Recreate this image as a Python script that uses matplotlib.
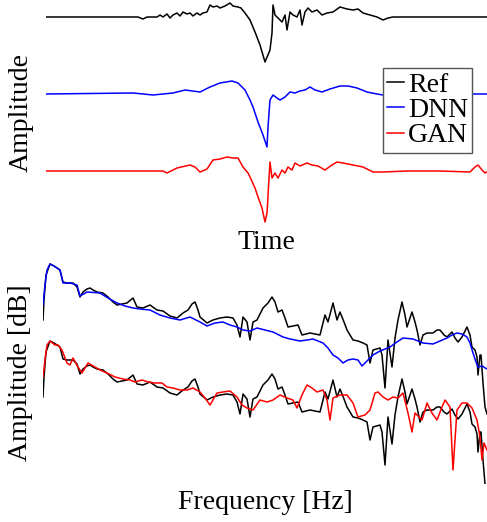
import matplotlib
matplotlib.use('Agg')
import matplotlib.pyplot as plt
import numpy as np

plt.rcParams.update({'font.size': 20, 'font.family': 'serif',
                     'font.serif': ['Liberation Serif', 'DejaVu Serif']})

# ---- time-domain waveforms (sample index, amplitude) ----
t_ref = [0, 92, 97, 101, 111, 114, 117, 121, 124, 127, 131, 134, 137, 141, 144, 147, 151, 154,
         157, 161, 164, 167, 171, 174, 179, 184, 187, 192, 195, 199, 204, 209, 214, 219, 224,
         226, 227, 229, 232, 236, 239, 241, 244, 247, 251, 254, 256, 259, 262, 266, 271, 276,
         281, 287, 294, 301, 307, 312, 317, 324, 331, 337, 342, 347, 441]
amp_ref = [0, 0, -0.2, 0, 0, 0.2, 0, 0.3, -0.1, 0.2, 0.4, 0.1, 0.5, 0.3, 0.4, 0.1, 0.4, 0.2,
           0.4, 0.5, 1.2, 1.0, 1.1, 0.9, 1.1, 1.4, 1.1, 1.0, 0.9, 0.4, -0.3, -1.5, -2.8, -4.5,
           -3.3, -1.6, 1.2, 0.2, -0.1, -0.5, 0.2, -1.3, 0.5, 0.2, 0, 0.7, -0.8, 0.5, 0.9, 0.5,
           0.7, 0.2, 0.4, 0.5, 1.0, 0.8, 0.7, 0.8, 0.4, 0.2, 0, -0.3, -0.1, 0, 0]

t_dnn = [0, 87, 107, 127, 139, 154, 164, 174, 186, 192, 199, 204, 207, 212, 217, 221, 222,
         224, 227, 231, 234, 239, 244, 249, 254, 259, 264, 269, 276, 284, 294, 302, 311, 321,
         331, 337, 384, 441]
amp_dnn = [0, 0.1, -0.1, 0.1, 0.4, 0.2, 0.7, 1.1, 1.3, 1.1, 0.4, -0.6, -1.3, -2.8, -4.1,
           -5.3, -3.3, -0.6, -0.1, -0.4, -0.6, -0.3, 0.2, 0.1, 0.3, 0.4, 0.7, 0.4, 0.2, 0.5,
           0.8, 0.8, 0.6, 0.2, 0, -0.1, 0, 0]

t_gan = [0, 117, 121, 131, 144, 149, 154, 161, 167, 174, 181, 187, 192, 197, 202, 204, 209,
         212, 216, 219, 221, 224, 226, 229, 232, 236, 239, 242, 246, 249, 254, 261, 266, 272,
         279, 286, 291, 297, 307, 317, 327, 337, 361, 394, 424, 429, 432, 436, 439, 441]
amp_gan = [0, 0, -0.2, 0.3, 0.6, 0.4, -0.1, 0.2, 1.1, 1.2, 1.4, 1.3, 1.3, 0.4, -0.2, -0.6,
           -1.7, -2.6, -3.7, -5.1, -4.2, 0.9, -0.7, -0.2, -0.7, 0.1, -0.2, 0.4, 0.1, 0.8, 0.5,
           0.8, 0.6, 0.5, 0.1, 0.6, 0.9, 0.8, 0.6, 0.4, -0.1, -0.1, 0, 0, -0.1, 0.4, 0.6, 0.1,
           -0.2, -0.1]

# ---- spectra (frequency bin, dB) ----
f_ref = [0, 1, 3, 7, 11, 14, 17, 20, 24, 30, 34, 37, 40, 44, 47, 50, 54, 60, 65, 70, 74, 79,
         84, 90, 94, 100, 107, 114, 120, 127, 134, 140, 145, 149, 152, 155, 157, 164, 170, 177,
         184, 190, 194, 197, 200, 204, 207, 210, 214, 220, 225, 229, 232, 235, 239, 242, 245,
         250, 255, 259, 267, 272, 277, 282, 285, 290, 294, 297, 301, 304, 310, 315, 320, 324,
         327, 330, 337, 339, 342, 345, 349, 352, 355, 359, 362, 364, 367, 369, 372, 374, 377,
         380, 384, 390, 394, 397, 401, 404, 409, 412, 415, 419, 424, 427, 429, 432, 434, 435,
         437, 438, 440, 442, 444]
db_ref = [-56, -36, -11, 0, -2, -4, -6, -18, -19, -19, -23, -33, -28, -25, -24, -26, -28, -29,
          -33, -38, -41, -40, -39, -34, -43, -44, -41, -46, -47, -52, -54, -49, -46, -40, -38,
          -46, -53, -59, -56, -54, -53, -54, -61, -73, -53, -58, -76, -58, -56, -44, -39, -33,
          -38, -48, -46, -54, -63, -62, -61, -71, -69, -70, -71, -51, -58, -39, -56, -48, -58,
          -66, -76, -77, -79, -81, -99, -86, -84, -91, -124, -76, -103, -74, -56, -38, -51,
          -63, -54, -48, -58, -66, -81, -71, -69, -69, -66, -66, -71, -73, -68, -74, -78, -73,
          -63, -71, -83, -86, -93, -111, -91, -91, -119, -143, -150]

f_dnn = [0, 2, 4, 7, 11, 14, 17, 20, 27, 34, 37, 44, 57, 65, 74, 82, 90, 97, 107, 117, 127,
         137, 147, 157, 164, 172, 180, 187, 194, 200, 207, 214, 222, 230, 240, 247, 257, 264,
         270, 275, 280, 285, 290, 295, 300, 305, 310, 315, 319, 324, 330, 337, 347, 354, 360,
         370, 380, 390, 397, 404, 409, 414, 419, 424, 427, 430, 433, 435, 439, 444]
db_dnn = [-41, -21, -6, 0, -2, -4, -6, -19, -19, -21, -32, -28, -29, -34, -39, -42, -44, -45,
          -46, -51, -54, -56, -53, -58, -62, -59, -58, -61, -63, -66, -67, -64, -66, -68, -73,
          -75, -77, -76, -75, -77, -79, -84, -91, -94, -99, -96, -95, -96, -102, -97, -91,
          -87, -83, -78, -74, -75, -79, -80, -77, -74, -71, -69, -70, -73, -79, -89, -98,
          -103, -102, -105]

f_gan = [0, 2, 4, 7, 12, 15, 19, 24, 27, 30, 35, 39, 45, 52, 57, 64, 72, 80, 87, 92, 99, 105,
         112, 119, 124, 130, 137, 144, 150, 157, 162, 167, 174, 180, 187, 194, 199, 204, 210,
         217, 224, 230, 237, 244, 250, 254, 259, 264, 269, 274, 280, 284, 287, 290, 297, 304,
         310, 315, 322, 327, 332, 335, 340, 345, 350, 355, 360, 365, 369, 372, 379, 384, 389,
         394, 399, 402, 407, 410, 414, 419, 424, 429, 434, 437, 439, 441, 444]
db_gan = [-36, -19, -4, 0, -4, -4, -9, -22, -24, -17, -26, -32, -22, -26, -29, -32, -36, -38,
          -39, -41, -39, -41, -42, -42, -46, -47, -49, -49, -47, -51, -57, -64, -52, -51, -50,
          -56, -64, -67, -69, -59, -61, -59, -54, -57, -59, -67, -54, -44, -47, -51, -49, -59,
          -79, -57, -54, -54, -62, -76, -74, -69, -52, -51, -56, -59, -56, -57, -52, -72, -91,
          -72, -79, -62, -72, -79, -66, -59, -66, -129, -69, -62, -62, -67, -79, -96, -119,
          -102, -109]

time_offsets = [0, -7.7, -15.4]
spec_offset = -77

W, H = 487, 522
fig = plt.figure(figsize=(W / 100, H / 100), dpi=100)

ax1 = fig.add_axes([46 / W, (H - 224) / H, 441 / W, 224 / H])
ax1.plot(t_ref, np.array(amp_ref) + time_offsets[0], color='black', lw=1.1, label='Ref')
ax1.plot(t_dnn, np.array(amp_dnn) + time_offsets[1], color='blue', lw=1.1, label='DNN')
ax1.plot(t_gan, np.array(amp_gan) + time_offsets[2], color='red', lw=1.1, label='GAN')
ax1.set_xlim(0, 441)
ax1.set_ylim(-20.7, 1.7)
ax1.set_xlabel('Time', labelpad=4)
ax1.set_ylabel('Amplitude', labelpad=9)
leg = ax1.legend(loc='upper left', bbox_to_anchor=(383 / W, 1 - 68 / H),
                 bbox_transform=fig.transFigure, borderaxespad=0, fancybox=False,
                 handlelength=0.6, handletextpad=0.15, borderpad=0.15,
                 labelspacing=0.0, framealpha=1, edgecolor='#555555')
leg.get_frame().set_linewidth(1.0)

ax2 = fig.add_axes([43 / W, (H - 484) / H, 444 / W, 222 / H])
ax2.plot(f_ref, db_ref, color='black', lw=1.1)
ax2.plot(f_dnn, db_dnn, color='blue', lw=1.1)
ax2.plot(f_ref, np.array(db_ref) + spec_offset, color='black', lw=1.1)
ax2.plot(f_gan, np.array(db_gan) + spec_offset, color='red', lw=1.1)
ax2.set_xlim(0, 444)
ax2.set_ylim(-220, 2)
ax2.set_xlabel('Frequency [Hz]', labelpad=4)
ax2.set_ylabel('Amplitude [dB]', labelpad=7)

for ax in (ax1, ax2):
    ax.set_xticks([])
    ax.set_yticks([])
    for s in ax.spines.values():
        s.set_visible(False)

fig.savefig('out.png', dpi=100)
